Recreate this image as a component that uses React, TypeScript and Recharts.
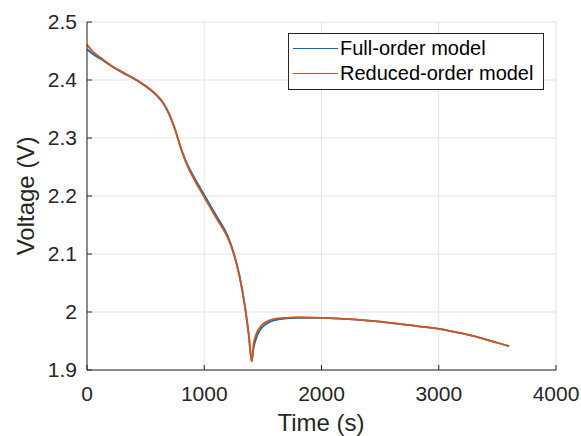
import {
  LineChart,
  Line,
  XAxis,
  YAxis,
  CartesianGrid
} from "recharts";

// time (s)
const timeS = [
  0, 50, 120, 200, 300, 400, 500, 600, 650, 700, 750, 800, 850, 900, 1000,
  1100, 1200, 1250, 1300, 1350, 1380, 1405, 1420, 1440, 1470, 1500, 1550,
  1600, 1700, 1800, 2000, 2200, 2400, 2600, 2800, 3000, 3200, 3400, 3500, 3600
];

// voltage (V), full-order model
const fullOrder = [
  2.453, 2.445, 2.436, 2.425, 2.413, 2.402, 2.389, 2.372, 2.360, 2.341, 2.315,
  2.283, 2.257, 2.237, 2.202, 2.167, 2.131, 2.103, 2.063, 2.006, 1.960, 1.915,
  1.937, 1.953, 1.967, 1.975, 1.982, 1.986, 1.989, 1.990, 1.990, 1.988, 1.985,
  1.981, 1.976, 1.971, 1.963, 1.953, 1.947, 1.941
];

// voltage (V), reduced-order model
const reducedOrder = [
  2.461, 2.449, 2.438, 2.426, 2.414, 2.403, 2.390, 2.373, 2.361, 2.342, 2.316,
  2.283, 2.255, 2.234, 2.198, 2.163, 2.128, 2.101, 2.062, 2.006, 1.960, 1.915,
  1.944, 1.960, 1.972, 1.979, 1.985, 1.988, 1.990, 1.991, 1.990, 1.988, 1.985,
  1.981, 1.976, 1.971, 1.963, 1.953, 1.947, 1.941
];

const seriesNames = ["Full-order model", "Reduced-order model"];
const seriesColors = ["#0072BD", "#D95319"];

const xTicks = [0, 1000, 2000, 3000, 4000];
const yTicks = [1.9, 2, 2.1, 2.2, 2.3, 2.4, 2.5];

const data = timeS.map((t, i) => ({
  t,
  full: fullOrder[i],
  reduced: reducedOrder[i]
}));

const FONT = '"Liberation Sans", Arial, Helvetica, sans-serif';
const INK = "#262626";

function LegendBox() {
  return (
    <div
      style={{
        position: "absolute",
        left: 288,
        top: 33,
        border: `1px solid ${INK}`,
        background: "#fff",
        width: 256,
        height: 57,
        boxSizing: "border-box",
        fontFamily: FONT,
        fontSize: 20,
        color: "#000",
        paddingTop: 2
      }}
    >
      {seriesNames.map((name, i) => (
        <div
          key={name}
          style={{ display: "flex", alignItems: "center", height: 25 }}
        >
          <div
            style={{
              width: 45,
              height: 0,
              borderTop: `1.5px solid ${seriesColors[i]}`,
              marginLeft: 4,
              marginRight: 2
            }}
          />
          <span>{name}</span>
        </div>
      ))}
    </div>
  );
}

export default function App() {
  return (
    <div
      style={{
        position: "absolute",
        left: 0,
        top: 0,
        width: 581,
        height: 436,
        background: "#fff"
      }}
    >
      <LineChart
        width={581}
        height={436}
        data={data}
        margin={{ top: 22, right: 25, bottom: 0, left: 0 }}
      >
        <CartesianGrid stroke="#e3e3e3" strokeWidth={1} />

        <XAxis
          dataKey="t"
          type="number"
          domain={[0, 4000]}
          ticks={xTicks}
          height={66}
          stroke={INK}
          tickSize={-5}
          tickMargin={21}
          tick={{ fill: INK, fontSize: 21, fontFamily: FONT }}
          label={{
            content: () => (
              <text
                x={321}
                y={431}
                textAnchor="middle"
                fill={INK}
                fontSize={24}
                fontFamily={FONT}
              >
                Time (s)
              </text>
            )
          }}
        />
        <XAxis
          xAxisId="top"
          orientation="top"
          dataKey="t"
          type="number"
          domain={[0, 4000]}
          ticks={xTicks}
          height={0}
          mirror
          stroke={INK}
          tickSize={5}
          tickFormatter={() => ""}
        />

        <YAxis
          type="number"
          domain={[1.9, 2.5]}
          ticks={yTicks}
          width={87}
          stroke={INK}
          tickSize={-5}
          tickMargin={15}
          tick={{ fill: INK, fontSize: 21, fontFamily: FONT }}
          label={{
            content: () => (
              <text
                x={34}
                y={196}
                transform="rotate(-90 34 196)"
                textAnchor="middle"
                fill={INK}
                fontSize={24}
                fontFamily={FONT}
              >
                Voltage (V)
              </text>
            )
          }}
        />
        <YAxis
          yAxisId="right"
          orientation="right"
          type="number"
          domain={[1.9, 2.5]}
          ticks={yTicks}
          width={0}
          mirror
          stroke={INK}
          tickSize={5}
          tickFormatter={() => ""}
        />

        <Line
          type="monotone"
          dataKey="full"
          name={seriesNames[0]}
          stroke={seriesColors[0]}
          strokeWidth={1.8}
          dot={false}
          isAnimationActive={false}
        />
        <Line
          type="monotone"
          dataKey="reduced"
          name={seriesNames[1]}
          stroke={seriesColors[1]}
          strokeWidth={1.8}
          dot={false}
          isAnimationActive={false}
        />
      </LineChart>
      <LegendBox />
    </div>
  );
}
